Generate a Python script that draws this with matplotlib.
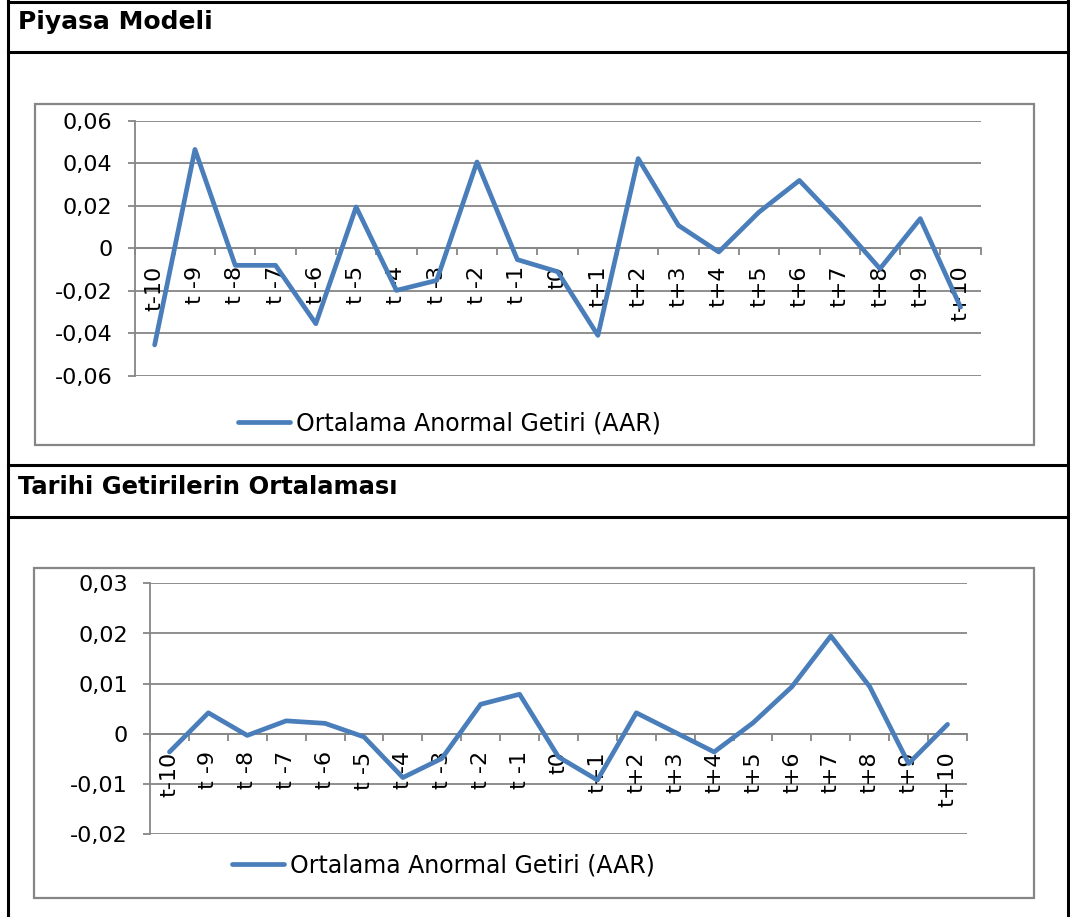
import matplotlib
matplotlib.use("Agg")
import matplotlib.pyplot as plt
from matplotlib.lines import Line2D
from matplotlib.patches import Rectangle

# event window
categories = ["t-10", "t -9", "t -8", "t -7", "t -6", "t -5", "t -4", "t -3", "t -2", "t -1", "t0",
              "t+1", "t+2", "t+3", "t+4", "t+5", "t+6", "t+7", "t+8", "t+9", "t+10"]

# average abnormal returns
piyasa_aar = [-0.0455, 0.0466, -0.0080, -0.0080, -0.0355, 0.0195, -0.0198, -0.0151, 0.0407, -0.0053, -0.0110,
              -0.0410, 0.0423, 0.0108, -0.0017, 0.0171, 0.0320, 0.0120, -0.0096, 0.0140, -0.0277]
tarihi_aar = [-0.0036, 0.0042, -0.0003, 0.0026, 0.0021, -0.0006, -0.0087, -0.0049, 0.0059, 0.0079, -0.0046,
              -0.0092, 0.0042, 0.0003, -0.0036, 0.0022, 0.0094, 0.0195, 0.0094, -0.0059, 0.0019]

piyasa_yticks = [-0.06, -0.04, -0.02, 0, 0.02, 0.04, 0.06]
piyasa_ylabels = ["-0,06", "-0,04", "-0,02", "0", "0,02", "0,04", "0,06"]
tarihi_yticks = [-0.02, -0.01, 0, 0.01, 0.02, 0.03]
tarihi_ylabels = ["-0,02", "-0,01", "0", "0,01", "0,02", "0,03"]

series_name = "Ortalama Anormal Getiri (AAR)"
titles = ["Piyasa Modeli", "Tarihi Getirilerin Ortalaması"]

W, H = 1070, 917
BLUE = "#4A7EBB"
GRAY = "#868686"


def fx(px):
    return px / W


def fy(py):
    return 1 - py / H


def draw_chart(ax, values, yticks, ylabels):
    x = list(range(len(categories)))
    ax.plot(x, values, color=BLUE, lw=3.4, solid_joinstyle="round", solid_capstyle="round",
            label=series_name, zorder=3)
    ax.set_xlim(-0.5, len(categories) - 0.5)
    ax.set_ylim(yticks[0], yticks[-1])
    ax.set_axisbelow(True)
    # category labels sit on top of the gridlines
    ax.xaxis.set_zorder(1.5)

    ax.tick_params(axis="y", length=5, width=1.3, color=GRAY, pad=11, labelsize=16)
    ax.set_yticks(yticks)
    ax.set_yticklabels(ylabels)
    ax.yaxis.grid(True, color=GRAY, lw=1.3)

    ax.tick_params(axis="x", which="major", length=5, width=1.3, color=GRAY)
    ax.tick_params(axis="x", which="minor", length=0, pad=12.5, labelsize=16, labelrotation=90)
    ax.set_xticks([i - 0.5 for i in range(len(categories) + 1)])
    ax.set_xticklabels([])
    ax.set_xticks(x, minor=True)
    ax.set_xticklabels(categories, minor=True)

    for s in ["top", "right"]:
        ax.spines[s].set_visible(False)
    ax.spines["left"].set_color(GRAY)
    ax.spines["left"].set_linewidth(1.3)
    ax.spines["bottom"].set_position(("data", 0))
    ax.spines["bottom"].set_color(GRAY)
    ax.spines["bottom"].set_linewidth(1.3)


fig = plt.figure(figsize=(W / 100, H / 100), dpi=100)
fig.patch.set_facecolor("white")

ax1 = fig.add_axes([fx(134.5), fy(375.7), fx(980.7) - fx(134.5), fy(121) - fy(375.7)])
draw_chart(ax1, piyasa_aar, piyasa_yticks, piyasa_ylabels)
ax1.legend(loc="center left", bbox_to_anchor=(fx(238), fy(423)), bbox_transform=fig.transFigure,
           frameon=False, fontsize=17, handlelength=2.2, handletextpad=0.25, borderpad=0, borderaxespad=0)

ax2 = fig.add_axes([fx(150), fy(834.3), fx(967) - fx(150), fy(583.3) - fy(834.3)])
draw_chart(ax2, tarihi_aar, tarihi_yticks, tarihi_ylabels)
ax2.legend(loc="center left", bbox_to_anchor=(fx(232), fy(865)), bbox_transform=fig.transFigure,
           frameon=False, fontsize=17, handlelength=2.2, handletextpad=0.25, borderpad=0, borderaxespad=0)

# chart area borders
for left, top, right, bottom in [(34.5, 103.5, 1034, 444.5), (33.5, 568, 1034, 898)]:
    fig.add_artist(Rectangle((fx(left), fy(bottom)), fx(right) - fx(left), fy(top) - fy(bottom),
                             transform=fig.transFigure, fill=False, edgecolor=GRAY, lw=1.6))

# table lines
for yy in [1.5, 51.5, 465, 516.5]:
    fig.add_artist(Line2D([fx(7.5), fx(1067.5)], [fy(yy), fy(yy)], transform=fig.transFigure,
                          color="black", lw=2.2))
for xx in [7.5, 1067.5]:
    fig.add_artist(Line2D([fx(xx), fx(xx)], [fy(0), fy(917)], transform=fig.transFigure,
                          color="black", lw=2.2))

fig.text(fx(18), fy(29), titles[0], fontsize=18, fontweight="bold", va="baseline", ha="left")
fig.text(fx(18), fy(494), titles[1], fontsize=17.5, fontweight="bold", va="baseline", ha="left")

fig.savefig("out.png", dpi=100, facecolor="white")
